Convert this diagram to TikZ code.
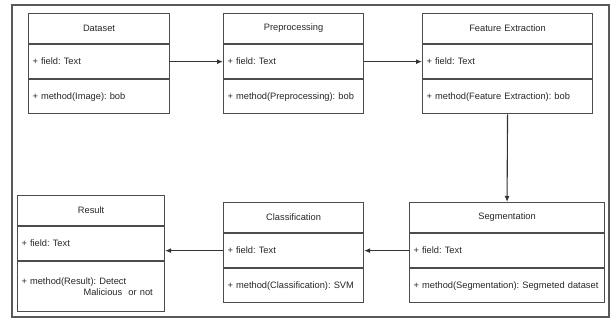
\documentclass[tikz,border=0pt]{standalone}
\usepackage{fontspec}
\setmainfont{Liberation Sans}
\usetikzlibrary{arrows.meta,positioning}
\frenchspacing

\tikzset{
  classhead/.style={draw=black!70, line width=1.1pt, text width=#1, align=center,
    minimum height=30pt, inner xsep=4pt, inner ysep=0pt},
  classfield/.style={draw=black!70, line width=1.1pt, text width=#1, align=left,
    minimum height=34pt, inner xsep=4pt, inner ysep=0pt},
  link/.style={-{Latex[length=6pt,width=5pt]}, draw=black!80, line width=1.1pt},
}

\begin{document}
\begin{tikzpicture}[x=1pt,y=-1pt,every node/.style={font=\fontsize{9.3}{11}\selectfont, text=black!85}]
	\useasboundingbox (0,0) rectangle (615,320);
	\draw[black!65, line width=1.4pt] (12,5) rectangle (609,317);

	% top row
	\node[classhead=133pt, anchor=north west] (data) at (28,13) {Dataset};
	\node[classfield=133pt, below=0pt of data]   (data-f) {+ field: Text};
	\node[classfield=133pt, below=0pt of data-f] (data-m) {+ method(Image): bob};

	\node[classhead=132pt, anchor=north west] (prep) at (223,13) {Preprocessing};
	\node[classfield=132pt, below=0pt of prep]   (prep-f) {+ field: Text};
	\node[classfield=132pt, below=0pt of prep-f] (prep-m) {+ method(Preprocessing): bob};

	\node[classhead=162pt, anchor=north west] (feat) at (422,13) {Feature Extraction};
	\node[classfield=162pt, below=0pt of feat]   (feat-f) {+ field: Text};
	\node[classfield=162pt, below=0pt of feat-f] (feat-m) {+ method(Feature Extraction): bob};

	% bottom row
	\node[classhead=187pt, anchor=north west] (seg) at (409,202) {Segmentation};
	\node[classfield=187pt, below=0pt of seg]   (seg-f) {+ field: Text};
	\node[classfield=187pt, below=0pt of seg-f] (seg-m) {+ method(Segmentation): Segmeted dataset};

	\node[classhead=132pt, anchor=north west] (cls) at (223,202) {Classification};
	\node[classfield=132pt, below=0pt of cls]   (cls-f) {+ field: Text};
	\node[classfield=132pt, below=0pt of cls-f] (cls-m) {+ method(Classification): SVM};

	\node[classhead=139pt, anchor=north west] (res) at (17,195) {Result};
	\node[classfield=139pt, below=0pt of res] (res-f) {+ field: Text};
	\node[classfield=139pt, below=0pt of res-f, minimum height=50pt] (res-m)
		{+ method(Result): Detect\\\hspace*{62pt}Malicious~ or not};

	% flow
	\draw[link] (data-f.east) -- (prep-f.west);
	\draw[link] (prep-f.east) -- (feat-f.west);
	\draw[link] (feat-m.south) -- (seg.north);
	\draw[link] (seg-f.west) -- (cls-f.east);
	\draw[link] (cls-f.west) -- (cls-f.west -| res-f.east);
\end{tikzpicture}
\end{document}
